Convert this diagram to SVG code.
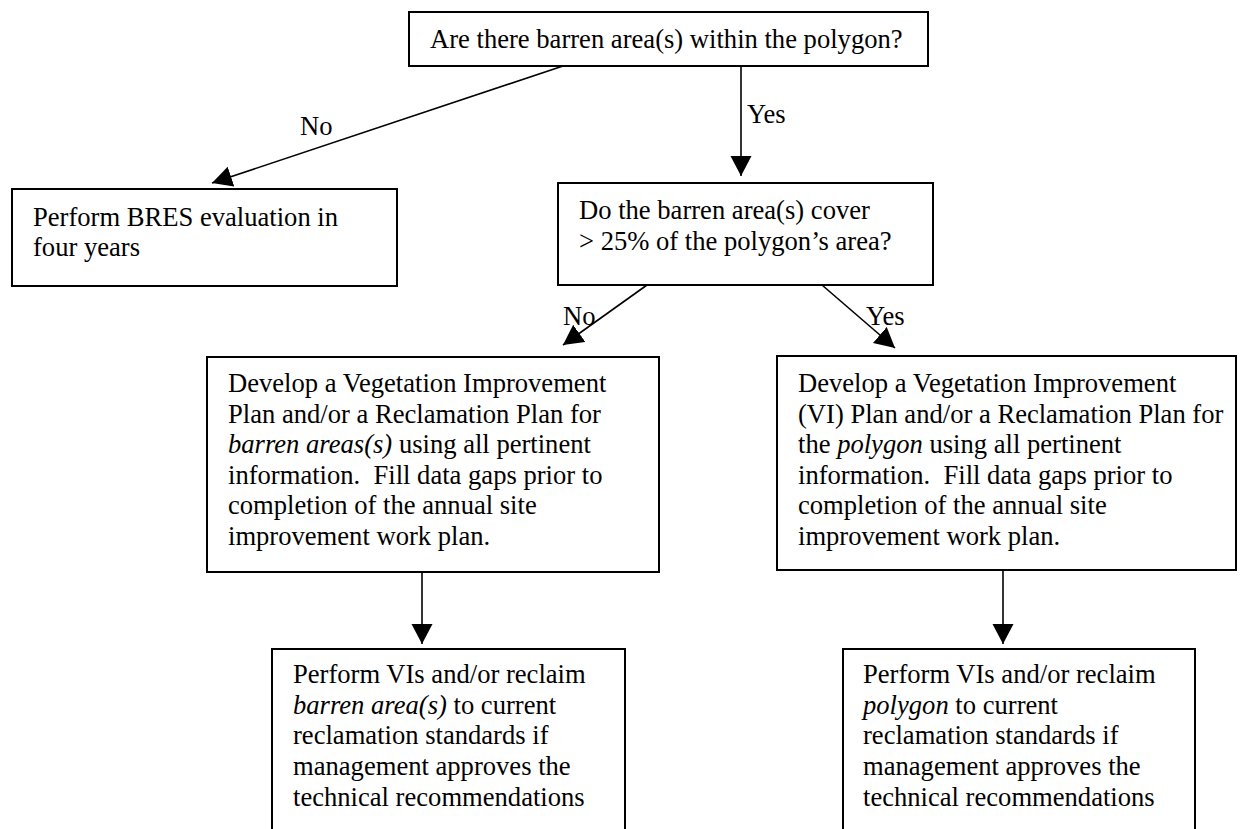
<svg xmlns="http://www.w3.org/2000/svg" width="1243" height="829" viewBox="0 0 1243 829">
<style>
.box{fill:#fff;stroke:#000;stroke-width:2}
.t{font-family:"Liberation Serif","Times New Roman",serif;font-size:26.6px;fill:#000;white-space:pre}
.i{font-style:italic}
.c{fill:none;stroke:#000;stroke-width:1.6}
</style>
<defs>
<marker id="ah" markerUnits="userSpaceOnUse" markerWidth="22" markerHeight="22" refX="20" refY="10.5" orient="auto">
<path d="M0,0 L20,10.5 L0,21 z" fill="#000"/>
</marker>
</defs>
<rect width="1243" height="829" fill="#fff"/>
<g id="connectors">
<line class="c" x1="563" y1="66" x2="212" y2="183" marker-end="url(#ah)"/>
<line class="c" x1="741" y1="66" x2="741" y2="176" marker-end="url(#ah)"/>
<line class="c" x1="647" y1="285" x2="563" y2="345" marker-end="url(#ah)"/>
<line class="c" x1="822" y1="285" x2="895" y2="348" marker-end="url(#ah)"/>
<line class="c" x1="422" y1="572" x2="422" y2="644" marker-end="url(#ah)"/>
<line class="c" x1="1003" y1="570" x2="1003" y2="644" marker-end="url(#ah)"/>
<text class="t" x="300" y="135">No</text>
<text class="t" x="747" y="123">Yes</text>
<text class="t" x="563" y="325">No</text>
<text class="t" x="866" y="325">Yes</text>
</g>
<g id="n-start">
<rect class="box" x="409" y="12" width="519" height="54"/>
<text class="t" x="430" y="48">Are there barren area(s) within the polygon?</text>
</g>
<g id="n-bres">
<rect class="box" x="12" y="189" width="385" height="97"/>
<text class="t" x="33" y="226">Perform BRES evaluation in</text>
<text class="t" x="33" y="256">four years</text>
</g>
<g id="n-cover">
<rect class="box" x="558" y="183" width="375" height="102"/>
<text class="t" x="579" y="219">Do the barren area(s) cover</text>
<text class="t" x="579" y="250">&gt; 25% of the polygon’s area?</text>
</g>
<g id="n-plan-barren">
<rect class="box" x="207" y="357" width="452" height="215"/>
<text class="t" x="228" y="392">Develop a Vegetation Improvement</text>
<text class="t" x="228" y="423">Plan and/or a Reclamation Plan for</text>
<text class="t" x="228" y="453"><tspan class="i">barren areas(s)</tspan> using all pertinent</text>
<text class="t" x="228" y="484">information.  Fill data gaps prior to</text>
<text class="t" x="228" y="514">completion of the annual site</text>
<text class="t" x="228" y="545">improvement work plan.</text>
</g>
<g id="n-plan-polygon">
<rect class="box" x="777" y="356" width="459" height="214"/>
<text class="t" x="798" y="392">Develop a Vegetation Improvement</text>
<text class="t" x="798" y="423">(VI) Plan and/or a Reclamation Plan for</text>
<text class="t" x="798" y="453">the <tspan class="i">polygon</tspan> using all pertinent</text>
<text class="t" x="798" y="484">information.  Fill data gaps prior to</text>
<text class="t" x="798" y="514">completion of the annual site</text>
<text class="t" x="798" y="545">improvement work plan.</text>
</g>
<g id="n-reclaim-barren">
<rect class="box" x="272" y="649" width="353" height="200"/>
<text class="t" x="293" y="683">Perform VIs and/or reclaim</text>
<text class="t" x="293" y="714"><tspan class="i">barren area(s)</tspan> to current</text>
<text class="t" x="293" y="744">reclamation standards if</text>
<text class="t" x="293" y="775">management approves the</text>
<text class="t" x="293" y="806">technical recommendations</text>
</g>
<g id="n-reclaim-polygon">
<rect class="box" x="843" y="649" width="352" height="200"/>
<text class="t" x="863" y="683">Perform VIs and/or reclaim</text>
<text class="t" x="863" y="714"><tspan class="i">polygon</tspan> to current</text>
<text class="t" x="863" y="744">reclamation standards if</text>
<text class="t" x="863" y="775">management approves the</text>
<text class="t" x="863" y="806">technical recommendations</text>
</g>
</svg>
